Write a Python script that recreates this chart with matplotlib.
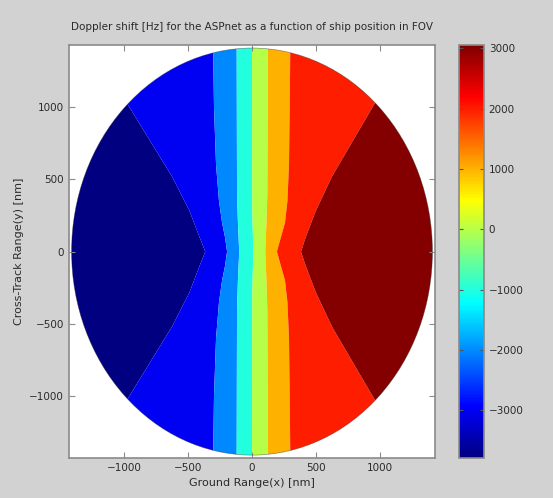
"""
Doppler shift contour map (MATLAB-style contourf look) with jet colorbar.
"""
import numpy as np
import matplotlib
matplotlib.use("Agg")
import matplotlib.pyplot as plt
from matplotlib.patches import Circle
from matplotlib.colors import Normalize, ListedColormap

# ---------------------------------------------------------------------------
# DATA: contour level boundaries (upper half, y >= 0;
# the field is mirrored about y = 0)
# ---------------------------------------------------------------------------
LEVELS = [-3000, -2000, -1000, 0, 1000, 2000, 3000]
CMIN, CMAX = -3790, 3050
FOV_RADIUS = 1410

# boundary between -3000 and -2000 band (navy / blue)
y_b1 = [0, 100, 285, 520, 1025, 1500]
x_b1 = [-365, -410, -490, -625, -975, -1310]
# -2000 / -1000 (blue / light blue)
y_b2 = [0, 100, 200, 350, 600, 1000, 1500]
x_b2 = [-195, -211, -234, -258, -281, -297, -305]
# -1000 / 0 (light blue / cyan)
y_b3 = [0, 200, 400, 1500]
x_b3 = [-100, -110, -117, -120]
# 0 / 1000 (cyan / yellow-green)
y_b4 = [0, 300, 1500]
x_b4 = [10, 2, 0]
# 1000 / 2000 (yellow-green / orange)
y_b5 = [0, 200, 400, 1500]
x_b5 = [104, 113, 120, 125]
# 2000 / 3000 (orange / red)
y_b6 = [0, 100, 200, 350, 600, 1000, 1500]
x_b6 = [195, 226, 258, 277, 289, 295, 300]
# 3000 / max (red / dark red)
y_b7 = [0, 100, 285, 520, 1040, 1500]
x_b7 = [383, 420, 500, 625, 968, 1300]

x_ticks = [-1000, -500, 0, 500, 1000]
y_ticks = [-1000, -500, 0, 500, 1000]

TITLE = "Doppler shift [Hz] for the ASPnet as a function of ship position in FOV"
XLABEL = "Ground Range(x) [nm]"
YLABEL = "Cross-Track Range(y) [nm]"

# ---------------------------------------------------------------------------
# helpers
# ---------------------------------------------------------------------------
def full_curve(ys, xs):
    """mirror an upper-half boundary into a full top-to-bottom curve"""
    ys = np.asarray(ys, float)
    xs = np.asarray(xs, float)
    y_full = np.concatenate([ys[::-1], -ys[1:]])
    x_full = np.concatenate([xs[::-1], xs[1:]])
    return x_full, y_full


def matlab_jet(n=256):
    t = np.linspace(0, 1, n)
    r = np.clip(np.minimum(4 * t - 1.5, -4 * t + 4.5), 0, 1)
    g = np.clip(np.minimum(4 * t - 0.5, -4 * t + 3.5), 0, 1)
    b = np.clip(np.minimum(4 * t + 0.5, -4 * t + 2.5), 0, 1)
    return ListedColormap(np.column_stack([r, g, b]), name="mjet")


edge = 1600
boundaries = [
    full_curve([0, 1500], [-edge, -edge]),
    full_curve(y_b1, x_b1),
    full_curve(y_b2, x_b2),
    full_curve(y_b3, x_b3),
    full_curve(y_b4, x_b4),
    full_curve(y_b5, x_b5),
    full_curve(y_b6, x_b6),
    full_curve(y_b7, x_b7),
    full_curve([0, 1500], [edge, edge]),
]

cmap = matlab_jet()
norm = Normalize(vmin=CMIN, vmax=CMAX)
band_values = [CMIN] + LEVELS

BG = "#d2d2d2"
TXT = "#2a2a2a"
FRAME = "#8a8a8a"

fig = plt.figure(figsize=(5.53, 4.98), dpi=100, facecolor=BG)
ax = fig.add_axes([0.1248, 0.0803, 0.6618, 0.829])
ax.set_facecolor("white")

clip = Circle((0, 0), FOV_RADIUS, transform=ax.transData, facecolor="none",
              edgecolor="none")

for i, val in enumerate(band_values):
    xl, yl = boundaries[i]
    xr, yr = boundaries[i + 1]
    xs = np.concatenate([xl, xr[::-1]])
    ys = np.concatenate([yl, yr[::-1]])
    poly = ax.fill(xs, ys, color=cmap(norm(val)), lw=0, zorder=1)[0]
    poly.set_clip_path(clip)

ax.add_patch(Circle((0, 0), FOV_RADIUS, facecolor="none", edgecolor="#303030",
                    lw=0.5, alpha=0.5, zorder=2))

ax.set_xlim(-1430, 1430)
ax.set_ylim(-1430, 1430)
ax.set_xticks(x_ticks)
ax.set_yticks(y_ticks)
ax.tick_params(direction="in", top=True, right=True, length=4, width=0.8,
               color=FRAME, labelsize=7.5, labelcolor=TXT)
for sp in ax.spines.values():
    sp.set_color(FRAME)
    sp.set_linewidth(1.2)

ax.set_title(TITLE, fontsize=7.5, color=TXT, pad=11)
ax.set_xlabel(XLABEL, fontsize=8, color=TXT, labelpad=4)
ax.set_ylabel(YLABEL, fontsize=8, color=TXT, labelpad=4)

# colorbar
cax = fig.add_axes([0.830, 0.0803, 0.045, 0.829])
sm = matplotlib.cm.ScalarMappable(norm=norm, cmap=cmap)
cb = fig.colorbar(sm, cax=cax)
cb.set_ticks(LEVELS)
cb.outline.set_edgecolor(FRAME)
cb.outline.set_linewidth(1.2)
cax.tick_params(direction="in", left=True, right=True, length=3, width=0.8,
                color="#555555", labelsize=7.5, labelcolor=TXT)

fig.savefig("out.png", dpi=100, facecolor=BG)
